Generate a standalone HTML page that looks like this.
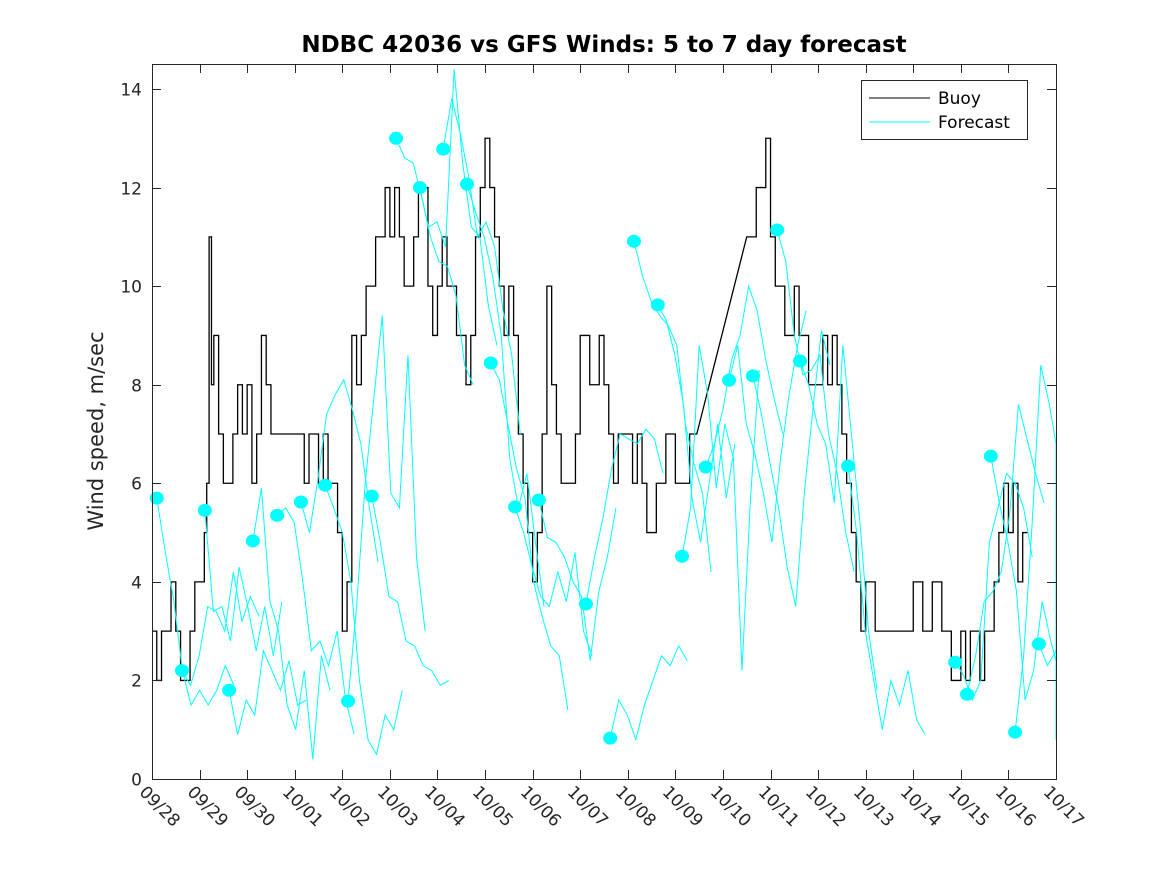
<!DOCTYPE html>
<html><head><meta charset="utf-8"><style>
body{margin:0;background:#fff}
svg{display:block;font-family:"DejaVu Sans","Liberation Sans",sans-serif}
</style></head><body>
<svg id="chart" width="1167" height="875" viewBox="0 0 1167 875" xmlns="http://www.w3.org/2000/svg">
<rect x="0" y="0" width="1167" height="875" fill="#fff"/>
<text x="604" y="52" text-anchor="middle" font-size="23" font-weight="bold" fill="#000">NDBC 42036 vs GFS Winds: 5 to 7 day forecast</text>
<text transform="translate(103,431) rotate(-90)" text-anchor="middle" font-size="21" fill="#262626">Wind speed, m/sec</text>
<g id="plot"></g>
<rect x="152.5" y="64.5" width="904" height="715" fill="none" stroke="#262626" stroke-width="1"/>
<g id="axes"></g>
<g>
<rect x="861.5" y="80.5" width="166" height="59" fill="#fff" stroke="#262626"/>
<line x1="869" y1="98" x2="930" y2="98" stroke="#000"/>
<text x="938" y="104" font-size="17" fill="#000">Buoy</text>
<line x1="869" y1="122" x2="930" y2="122" stroke="#00ffff"/>
<text x="938" y="128" font-size="17" fill="#000">Forecast</text>
</g>
</svg>
<script>
const tickLabels=["09/28","09/29","09/30","10/01","10/02","10/03","10/04","10/05","10/06","10/07","10/08","10/09","10/10","10/11","10/12","10/13","10/14","10/15","10/16","10/17"];
const yTicks=[0,2,4,6,8,10,12,14];
const buoyT=[0,0.1,0.2,0.3,0.4,0.5,0.6,0.7,0.8,0.9,1.0,1.1,1.15,1.2,1.25,1.3,1.4,1.5,1.6,1.7,1.8,1.9,2.0,2.1,2.2,2.3,2.4,2.5,2.6,2.8,3.0,3.2,3.3,3.4,3.5,3.6,3.7,3.8,3.9,4.0,4.1,4.2,4.3,4.4,4.5,4.6,4.7,4.8,4.9,5.0,5.1,5.2,5.3,5.4,5.5,5.6,5.7,5.8,5.9,6.0,6.1,6.2,6.3,6.4,6.5,6.6,6.7,6.8,6.9,7.0,7.1,7.2,7.3,7.4,7.5,7.6,7.7,7.8,7.9,8.0,8.1,8.2,8.3,8.4,8.5,8.6,8.7,8.8,8.9,9.0,9.2,9.4,9.5,9.6,9.7,9.8,10.0,10.1,10.2,10.3,10.4,10.6,10.8,11.0,11.2,11.3,11.45,12.5,12.6,12.7,12.8,12.9,13.0,13.1,13.2,13.3,13.4,13.5,13.6,13.7,13.8,13.9,14.0,14.1,14.2,14.3,14.4,14.5,14.6,14.7,14.8,14.9,15.0,15.2,15.4,15.6,15.8,16.0,16.2,16.4,16.6,16.8,17.0,17.1,17.2,17.3,17.4,17.5,17.6,17.7,17.8,17.9,18.0,18.1,18.2,18.3,18.4];
const buoyV=[3,2,3,3,4,3,2,2,3,4,4,5,6,11,8,9,7,6,6,7,8,7,8,6,7,9,8,7,7,7,7,6,7,7,6,7,6,6,5,3,4,9,8,9,10,10,11,11,12,11,12,11,10,10,11,12,12,10,9,10,11,10,10,9,9,8,9,11,12,13,12,11,10,9,10,9,7,6,5,4,5,7,10,8,7,6,6,6,7,9,8,9,8,7,6,7,7,6,7,6,5,6,7,6,6,7,7,11,11,12,12,13,11,10,10,9,9,10,9,9,8,8,8,9,8,9,8,7,6,5,4,3,4,3,3,3,3,4,3,4,3,2,3,2,3,3,2,3,3,4,5,6,5,6,4,5,5,7,8,6];
const fcStart=[0.1,0.63,1.11,1.62,2.12,2.63,3.13,3.64,4.12,4.62,5.13,5.63,6.12,6.62,7.12,7.63,8.13,9.12,9.63,10.13,10.63,11.14,11.64,12.13,12.63,13.14,13.62,14.63,16.88,17.13,17.63,18.14,18.64];
const fcStep=0.18;
const fcVals=[
[5.7,4.6,3.6,2.2,1.5,1.8,1.5,1.8,2.3,1.9],
[2.2,1.9,2.5,3.5,3.4,3.0,4.2,3.2,3.7,3.3],
[5.45,3.4,3.5,2.8,4.3,3.5,2.6,3.5,2.5,3.6],
[1.8,0.9,1.6,1.3,2.6,2.2,1.8,2.4,1.5,1.6],
[4.83,5.9,3.6,3.0,1.5,1.0,2.2,0.4,2.5,1.8],
[5.35,5.5,5.2,4.0,2.6,2.8,2.3,3.0,1.6,0.9],
[5.62,5.0,6.1,7.4,7.8,8.1,7.5,6.8,5.5,4.4],
[5.96,5.5,5.0,4.0,2.0,0.8,0.5,1.3,1.0,1.8],
[1.58,3.5,6.0,7.7,9.4,5.8,5.5,8.6,4.5,3.0],
[5.74,4.8,3.7,3.6,2.8,2.7,2.3,2.2,1.9,2.0],
[13.0,12.6,12.5,11.8,11.0,10.5,10.4,9.8,8.4,8.0],
[12.0,11.2,11.3,10.8,14.4,12.5,11.2,11.0,9.6,8.8],
[12.78,13.8,13.1,12.2,11.0,11.3,10.8,9.5,8.6,7.0],
[12.07,11.5,11.0,10.2,9.0,6.5,5.5,6.2,4.8,3.5],
[8.44,8.1,7.2,6.3,5.7,4.0,3.3,2.7,2.5,1.4],
[5.52,5.0,4.3,3.7,3.5,4.2,3.6,4.6,3.0,2.5],
[5.66,4.9,4.8,4.5,4.0,3.7,2.4,3.8,4.5,5.5],
[3.55,4.5,5.3,6.3,7.0,6.9,6.8,7.1,6.9,6.2],
[0.83,1.6,1.3,0.8,1.5,2.0,2.5,2.3,2.7,2.4],
[10.91,10.2,9.7,9.4,9.2,8.8,7.2,6.4,5.8,4.2],
[9.62,9.3,8.6,7.6,5.7,4.8,6.0,7.2,5.7,6.8],
[4.52,5.5,8.8,7.8,5.9,7.2,6.5,2.2,5.7,8.3],
[6.33,6.8,7.5,8.5,9.0,10.0,9.5,8.5,7.7,7.0],
[8.09,8.8,7.2,6.6,5.8,4.8,6.5,7.8,8.8,9.5],
[8.18,7.4,6.4,5.5,4.3,3.5,5.8,7.5,9.1,8.4],
[11.14,10.5,9.0,8.2,8.3,8.6,7.0,6.2,5.0,4.2],
[8.48,8.0,7.2,6.8,5.6,8.8,7.0,5.2,3.0,1.8],
[6.35,5.0,3.0,2.0,1.0,2.0,1.5,2.2,1.2,0.9],
[2.37,2.1,1.6,2.0,4.8,5.5,6.2,6.0,5.5,4.5],
[1.72,2.5,3.6,3.8,4.2,5.4,7.6,6.9,6.2,5.6],
[6.55,5.6,4.8,3.8,1.6,2.2,3.6,2.8,2.4,2.1],
[0.95,2.5,5.2,8.4,7.6,6.8,6.0,4.5,3.4,2.0],
[2.74,2.3,2.6,1.9,1.5,0.8]
];
const X0=152,X1=1056,Y0=779,Y1=89;
const x=d=>X0+(X1-X0)*d/19;
const y=v=>Y0-(Y0-Y1)*v/14;
const NS="http://www.w3.org/2000/svg";
const plot=document.getElementById('plot');
const axes=document.getElementById('axes');
function mk(tag,attrs,parent){const e=document.createElementNS(NS,tag);for(const k in attrs)e.setAttribute(k,attrs[k]);parent.appendChild(e);return e;}
let d=`M${x(buoyT[0])},${y(buoyV[0])}`;
for(let i=1;i<buoyT.length;i++){
  if(buoyT[i]-buoyT[i-1]>0.5){d+=` L${x(buoyT[i])},${y(buoyV[i])}`;}
  else{d+=` H${x(buoyT[i])} V${y(buoyV[i])}`;}
}
const bp=mk('path',{d:d,fill:'none',stroke:'#000','stroke-width':1.3},plot);


for(let s=0;s<fcVals.length;s++){
  const vals=fcVals[s];
  const pts=vals.map((v,i)=>`${x(Math.min(19,fcStart[s]+i*fcStep))},${y(v)}`).join(' ');
  const pl=mk('polyline',{points:pts,fill:'none',stroke:'#00ffff','stroke-width':1},plot);
  
  
}
for(let s=0;s<fcVals.length;s++){
  const c=mk('ellipse',{cx:x(fcStart[s]),cy:y(fcVals[s][0]),rx:7,ry:6.5,fill:'#00ffff'},plot);
  
  
}
yTicks.forEach(v=>{
  const yy=Math.round(y(v))+0.5;
  mk('line',{x1:152,y1:yy,x2:161,y2:yy,stroke:'#262626'},axes);
  mk('line',{x1:1047,y1:yy,x2:1056,y2:yy,stroke:'#262626'},axes);
  const t=mk('text',{x:142,y:yy+6,'text-anchor':'end','font-size':17,fill:'#262626'},axes);
  t.textContent=v;
  
  
});
tickLabels.forEach((lab,i)=>{
  const xx=Math.round(x(i))+0.5;
  mk('line',{x1:xx,y1:779,x2:xx,y2:770,stroke:'#262626'},axes);
  mk('line',{x1:xx,y1:64,x2:xx,y2:73,stroke:'#262626'},axes);
  const t=mk('text',{transform:`translate(${xx-14},${793}) rotate(45)`,'font-size':17,fill:'#262626'},axes);
  t.textContent=lab;
  
  
});
</script>
</body></html>
